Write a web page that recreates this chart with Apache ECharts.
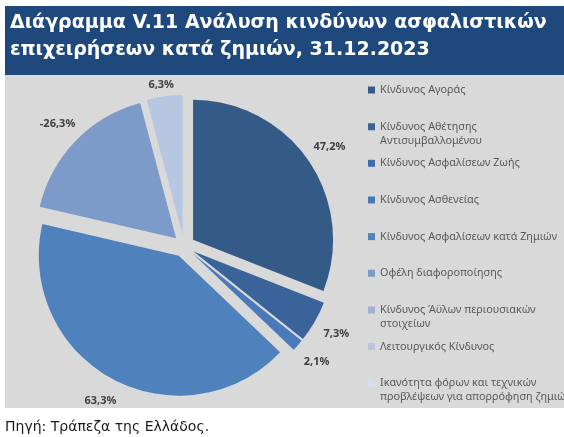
<!DOCTYPE html>
<html>
<head>
<meta charset="utf-8">
<script src="https://cdn.jsdelivr.net/npm/echarts@6/dist/echarts.min.js"></script>
<style>html,body{margin:0;padding:0;background:#fff;}#c{width:564px;height:437px;}</style>
</head>
<body>
<div id="c"></div>
<script>
const categories = [
  'Κίνδυνος Αγοράς',
  'Κίνδυνος Αθέτησης\nΑντισυμβαλλομένου',
  'Κίνδυνος Ασφαλίσεων Ζωής',
  'Κίνδυνος Ασθενείας',
  'Κίνδυνος Ασφαλίσεων κατά Ζημιών',
  'Οφέλη διαφοροποίησης',
  'Κίνδυνος Άϋλων περιουσιακών\nστοιχείων',
  'Λειτουργικός Κίνδυνος',
  'Ικανότητα φόρων και τεχνικών\nπροβλέψεων για απορρόφηση ζημιών'
];
const values = [47.2, 7.3, 0, 2.1, 63.3, -26.3, 0, 6.3, 0];
const colors = ['#345A88', '#3A6499', '#3F6DAA', '#4979B9', '#4F81BD', '#7D9BC9', '#9CB1D6', '#B7C7E2', '#D5DEEE'];
const titleText = 'Διάγραμμα V.11 Ανάλυση κινδύνων ασφαλιστικών\nεπιχειρήσεων κατά ζημιών, 31.12.2023';
const sourceText = 'Πηγή: Τράπεζα της Ελλάδος.';

const fmt = v => v.toFixed(1).replace('.', ',') + '%';
const C = [184, 246];

const pieData = categories.map((n, i) => ({
  name: n, value: Math.abs(values[i]), selected: values[i] !== 0,
  itemStyle: { color: colors[i] }
}));
const labelData = categories.map((n, i) => ({
  name: 'lbl' + i, value: Math.abs(values[i]),
  label: { show: values[i] !== 0, formatter: fmt(values[i]) }
}));

// square icon at top of a taller box so the square lines up with the first text line
const tallIcon = 'path://M0,0L7,0L7,7L0,7Z M0,20.99L0.01,20.99L0.01,21Z';
const legends = categories.map((n, i) => {
  const twoLine = n.indexOf('\n') >= 0;
  return {
    data: [{ name: n, icon: twoLine ? tallIcon : 'rect' }],
    left: 368, top: 90 + i * 36.65 - 7,
    orient: 'vertical', padding: 0,
    itemWidth: 7, itemHeight: twoLine ? 21 : 7,
    selectedMode: false,
    textStyle: { fontFamily: 'Noto Sans', fontSize: 10.8, color: '#595959', lineHeight: 14 }
  };
});

const chart = echarts.init(document.getElementById('c'), null, { renderer: 'canvas' });
chart.setOption({
  animation: false,
  graphic: [
    { type: 'rect', z: -10, shape: { x: 5, y: 6, width: 559, height: 69 }, style: { fill: '#1F497D' } },
    { type: 'rect', z: -10, shape: { x: 5, y: 75, width: 559, height: 333 }, style: { fill: '#D9D9D9' } }
  ],
  title: [
    { text: titleText, left: 5, top: 5,
      textStyle: { fontFamily: 'DejaVu Sans', fontSize: 19, fontWeight: 'bold', color: '#ffffff', lineHeight: 27 } },
    { text: sourceText, left: 0, top: 414,
      textStyle: { fontFamily: 'DejaVu Sans', fontSize: 14, fontWeight: 'normal', color: '#1a1a1a', lineHeight: 16 } }
  ],
  legend: legends,
  series: [
    {
      type: 'pie', center: C, radius: 140, startAngle: 90, clockwise: true,
      selectedMode: 'multiple', selectedOffset: 11,
      label: { show: false }, labelLine: { show: false },
      emphasis: { disabled: true, scale: false },
      select: { itemStyle: { borderWidth: 0 } },
      data: pieData
    },
    {
      type: 'pie', center: C, radius: [166, 180], startAngle: 90, clockwise: true,
      silent: true, selectedMode: false,
      itemStyle: { color: 'rgba(0,0,0,0)' },
      label: { position: 'inside', rotate: 0, color: '#404040', fontFamily: 'Noto Sans', fontWeight: 'bold', fontSize: 11 },
      labelLine: { show: false },
      labelLayout: function (p) {
        const cy = p.labelRect.y + p.labelRect.height / 2;
        return cy < 85 ? { y: 85 } : {};
      },
      emphasis: { disabled: true },
      data: labelData
    }
  ]
});
</script>
</body>
</html>
